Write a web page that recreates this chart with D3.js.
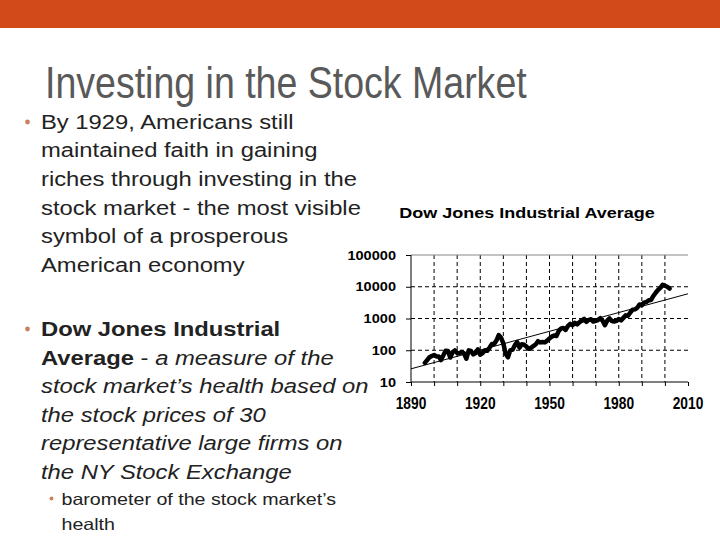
<!DOCTYPE html>
<html>
<head>
<meta charset="utf-8">
<script src="https://cdn.jsdelivr.net/npm/d3@7"></script>
<style>
  body { margin: 0; background: #fff; }
  svg { display: block; font-family: "Liberation Sans", Arial, sans-serif; }
</style>
</head>
<body>
<div id="slide"></div>
<script>
// Dow Jones yearly closes (1896 .. 2002)
var dowFirstYear = 1896;
var dowValues = [40,49,60,66,71,64,64,49,69,96,
  94,59,86,99,81,82,88,79,54,99,
  95,74,82,107,72,81,99,96,120,156,
  157,202,300,248,165,78,60,99,104,144,
  180,121,155,150,131,111,119,136,152,193,
  177,181,177,200,235,269,292,281,404,488,
  500,436,584,679,616,731,652,763,874,969,
  786,905,944,800,839,890,1020,851,616,852,
  1005,831,805,839,964,875,1047,1259,1212,1547,
  1896,1939,2169,2753,2634,3169,3301,3754,3834,5117,
  6448,7908,9181,11497,10787,10022,8800];
var trendYears = [1890, 2010];
var trendValues = [26, 6000];
var yTicks = [10, 100, 1000, 10000, 100000];
var xTicks = [1890, 1900, 1910, 1920, 1930, 1940, 1950, 1960, 1970, 1980, 1990, 2000, 2010];
var xLabels = [1890, 1920, 1950, 1980, 2010];

var ready = function(){
  var svg = d3.select('#slide').append('svg')
    .attr('width', 720).attr('height', 540);

  // orange header band
  svg.append('rect').attr('x', 0).attr('y', 0).attr('width', 720).attr('height', 28)
    .attr('fill', '#d24a1a');

  svg.append('text').text('Investing in the Stock Market')
    .attr('transform', 'translate(45,98) scale(0.853,1)')
    .attr('font-size', 44).attr('fill', '#595959');

  // slide text, a bit wider than the font, like the source
  var sx = 1.19;
  var addLine = function(x, y, size, parts){
    var t = svg.append('text')
      .attr('transform', 'translate(' + x + ',' + y + ') scale(' + sx + ',1)')
      .attr('font-size', size).attr('fill', '#222');
    parts.forEach(function(p){
      t.append('tspan').text(p[0])
        .attr('font-weight', p[1] == 'b' ? 'bold' : 'normal')
        .attr('font-style', p[1] == 'i' ? 'italic' : 'normal');
    });
  };
  var bullet = function(x, y, r){
    svg.append('circle').attr('cx', x).attr('cy', y).attr('r', r).attr('fill', '#c9825f');
  };

  bullet(27.5, 122, 2.4);
  var lines1 = ['By 1929, Americans still', 'maintained faith in gaining', 'riches through investing in the',
    'stock market - the most visible', 'symbol of a prosperous', 'American economy'];
  lines1.forEach(function(s, i){ addLine(41, 128.5 + i*28.7, 20, [[s, 'n']]); });

  bullet(27.5, 329, 2.4);
  addLine(41, 336, 20, [['Dow Jones Industrial', 'b']]);
  addLine(41, 364.5, 20, [['Average', 'b'], [' - ', 'n'], ['a measure of the', 'i']]);
  var lines2 = ['stock market\u2019s health based on', 'the stock prices of 30',
    'representative large firms on', 'the NY Stock Exchange'];
  lines2.forEach(function(s, i){ addLine(41, 393 + i*28.5, 20, [[s, 'i']]); });

  bullet(51.5, 498.5, 2);
  addLine(61.5, 504.5, 16.5, [['barometer of the stock market\u2019s', 'n']]);
  addLine(61.5, 529.5, 16.5, [['health', 'n']]);

  // ---- chart ----
  var plot = {left: 411, right: 688, top: 255, bottom: 382};
  var x = d3.scaleLinear().domain([1890, 2010]).range([plot.left, plot.right]);
  var y = d3.scaleLog().domain([10, 100000]).range([plot.bottom, plot.top]);

  svg.append('text').text('Dow Jones Industrial Average')
    .attr('transform', 'translate(527,217.5) scale(1.2,1)')
    .attr('text-anchor', 'middle').attr('font-size', 15).attr('font-weight', 'bold')
    .attr('fill', '#000');

  var chart = svg.append('g');

  // dashed grid
  chart.selectAll('line.vgrid').data(xTicks.filter(function(d){ return d > 1890 && d < 2010; }))
    .enter().append('line').attr('class', 'vgrid')
    .attr('x1', function(d){ return x(d); }).attr('x2', function(d){ return x(d); })
    .attr('y1', plot.top).attr('y2', plot.bottom)
    .attr('stroke', '#000').attr('stroke-width', 1).attr('stroke-dasharray', '4,3');
  chart.selectAll('line.hgrid').data(yTicks.filter(function(d){ return d > 10 && d < 100000; }))
    .enter().append('line').attr('class', 'hgrid')
    .attr('x1', plot.left).attr('x2', plot.right)
    .attr('y1', function(d){ return y(d); }).attr('y2', function(d){ return y(d); })
    .attr('stroke', '#000').attr('stroke-width', 1).attr('stroke-dasharray', '4,3');
  chart.append('line')
    .attr('x1', plot.left).attr('x2', plot.right)
    .attr('y1', y(100000)).attr('y2', y(100000))
    .attr('stroke', '#888').attr('stroke-width', 1);

  // axes
  var yAxis = chart.append('g').attr('transform', 'translate(' + plot.left + ',0)')
    .call(d3.axisLeft(y).tickValues(yTicks).tickSize(5).tickPadding(0).tickFormat(function(){ return ''; }));
  var xAxis = chart.append('g').attr('transform', 'translate(0,' + plot.bottom + ')')
    .call(d3.axisBottom(x).tickValues(xTicks).tickSize(4).tickFormat(function(){ return ''; }));
  [yAxis, xAxis].forEach(function(a){
    a.select('.domain').remove();
    a.selectAll('.tick line').attr('stroke', '#000');
  });
  yAxis.append('line').attr('x1', 0).attr('x2', 0).attr('y1', plot.top).attr('y2', plot.bottom).attr('stroke', '#000');
  xAxis.append('line').attr('x1', plot.left).attr('x2', plot.right).attr('y1', 0).attr('y2', 0).attr('stroke', '#000');

  // tick labels
  chart.selectAll('text.ylab').data(yTicks).enter().append('text').attr('class', 'ylab')
    .text(function(d){ return d; })
    .attr('transform', function(d){ return 'translate(396,' + (y(d) + 4.6) + ') scale(1.12,1)'; })
    .attr('text-anchor', 'end').attr('font-size', 13).attr('font-weight', 'bold').attr('fill', '#000');
  chart.selectAll('text.xlab').data(xLabels).enter().append('text').attr('class', 'xlab')
    .text(function(d){ return d; })
    .attr('transform', function(d){ return 'translate(' + x(d) + ',409) scale(0.86,1)'; })
    .attr('text-anchor', 'middle').attr('font-size', 16).attr('font-weight', 'bold').attr('fill', '#000');

  // trend line
  var trend = trendYears.map(function(yr, i){ return [yr, trendValues[i]]; });
  chart.append('path').datum(trend)
    .attr('d', d3.line().x(function(d){ return x(d[0]); }).y(function(d){ return y(d[1]); }))
    .attr('fill', 'none').attr('stroke', '#000').attr('stroke-width', 1);

  // Dow series
  var dow = dowValues.map(function(v, i){ return [dowFirstYear + i, v]; });
  chart.append('path').datum(dow)
    .attr('d', d3.line().x(function(d){ return x(d[0]); }).y(function(d){ return y(d[1]); }))
    .attr('fill', 'none').attr('stroke', '#000').attr('stroke-width', 4.5)
    .attr('stroke-linejoin', 'round').attr('stroke-linecap', 'round');
};
ready();
</script>
</body>
</html>
